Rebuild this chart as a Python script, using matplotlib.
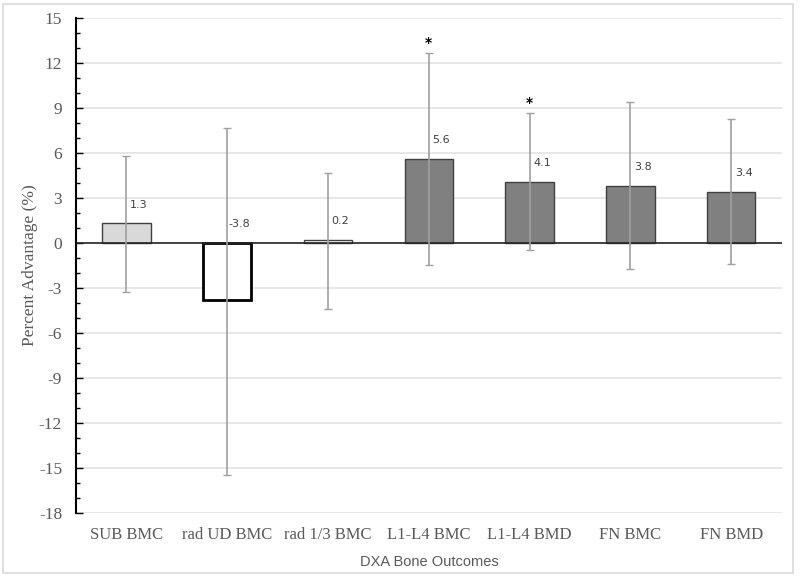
import matplotlib
matplotlib.use("Agg")
import matplotlib.pyplot as plt
from matplotlib.patches import Rectangle
import numpy as np

categories = ["SUB BMC", "rad UD BMC", "rad 1/3 BMC", "L1-L4 BMC", "L1-L4 BMD", "FN BMC", "FN BMD"]
values = [1.3, -3.8, 0.2, 5.6, 4.1, 3.8, 3.4]
err_low = [-3.25, -15.5, -4.4, -1.45, -0.5, -1.75, -1.4]
err_high = [5.8, 7.7, 4.65, 12.7, 8.7, 9.4, 8.25]
significant = [False, False, False, True, True, False, False]
y_ticks = [15, 12, 9, 6, 3, 0, -3, -6, -9, -12, -15, -18]

face_colors = ["#d9d9d9", "#ffffff", "#ffffff", "#808080", "#808080", "#808080", "#808080"]
edge_colors = ["#404040", "#000000", "#404040", "#404040", "#404040", "#404040", "#404040"]
edge_widths = [1.0, 2.0, 1.0, 1.0, 1.0, 1.0, 1.0]

fig = plt.figure(figsize=(8, 5.77), dpi=100)
ax = fig.add_axes([0.095, 0.1115, 0.882, 0.857])

x = np.arange(len(categories))
ax.set_xlim(-0.5, len(categories) - 0.5)
ax.set_ylim(-18, 15)

# gridlines
for t in y_ticks:
    ax.axhline(t, color="#e3e3e3", lw=1.2, zorder=0)

ax.bar(x, values, width=0.48, color=face_colors, edgecolor=edge_colors,
       linewidth=edge_widths, zorder=3)

ax.axhline(0, color="#262626", lw=1.2, zorder=4)

vals = np.array(values)
lo = vals - np.array(err_low)
hi = np.array(err_high) - vals
ax.errorbar(x, vals, yerr=[lo, hi], fmt="none", ecolor="#a0a0a0",
            elinewidth=1.2, capsize=3, capthick=1.0, zorder=5)

for i, v in enumerate(values):
    ax.annotate(f"{v:.1f}", xy=(x[i], max(v, 0)), xytext=(9, 10),
                textcoords="offset points", ha="center", va="bottom",
                fontsize=8, color="#404040", family="DejaVu Sans", zorder=6)
    if significant[i]:
        ax.annotate("*", xy=(x[i], err_high[i]), xytext=(0, 2),
                    textcoords="offset points", ha="center", va="bottom",
                    fontsize=10, color="#000000", fontweight="bold", zorder=6)

ax.set_yticks(y_ticks)
ax.set_yticklabels([str(t) for t in y_ticks], family="Liberation Serif",
                   fontsize=12.5, color="#595959")
ax.set_yticks(np.arange(-18, 16, 1), minor=True)
ax.tick_params(axis="y", which="major", direction="in", length=5, width=1,
               color="#000000", pad=10)
ax.tick_params(axis="y", which="minor", direction="in", length=3, width=1,
               color="#000000")

ax.set_xticks(x)
ax.set_xticklabels(categories, family="Liberation Serif", fontsize=12,
                   color="#595959")
ax.tick_params(axis="x", length=0, pad=10)

for s in ["top", "right", "bottom"]:
    ax.spines[s].set_visible(False)
ax.spines["left"].set_color("#000000")
ax.spines["left"].set_linewidth(1.5)

ax.set_ylabel("Percent Advantage (%)", family="Liberation Serif", fontsize=12.5,
              color="#595959")
ax.yaxis.set_label_coords(-0.054, 0.5)
fig.text(0.537, 1 - 562 / 577, "DXA Bone Outcomes", family="Liberation Sans",
         fontsize=10.5, color="#595959", ha="center", va="center")

fig.patches.append(Rectangle((3 / 800, 4 / 577), 790 / 800, 569 / 577,
                             transform=fig.transFigure, fill=False,
                             edgecolor="#d9d9d9", lw=1.2))

fig.savefig("out.png", dpi=100)
